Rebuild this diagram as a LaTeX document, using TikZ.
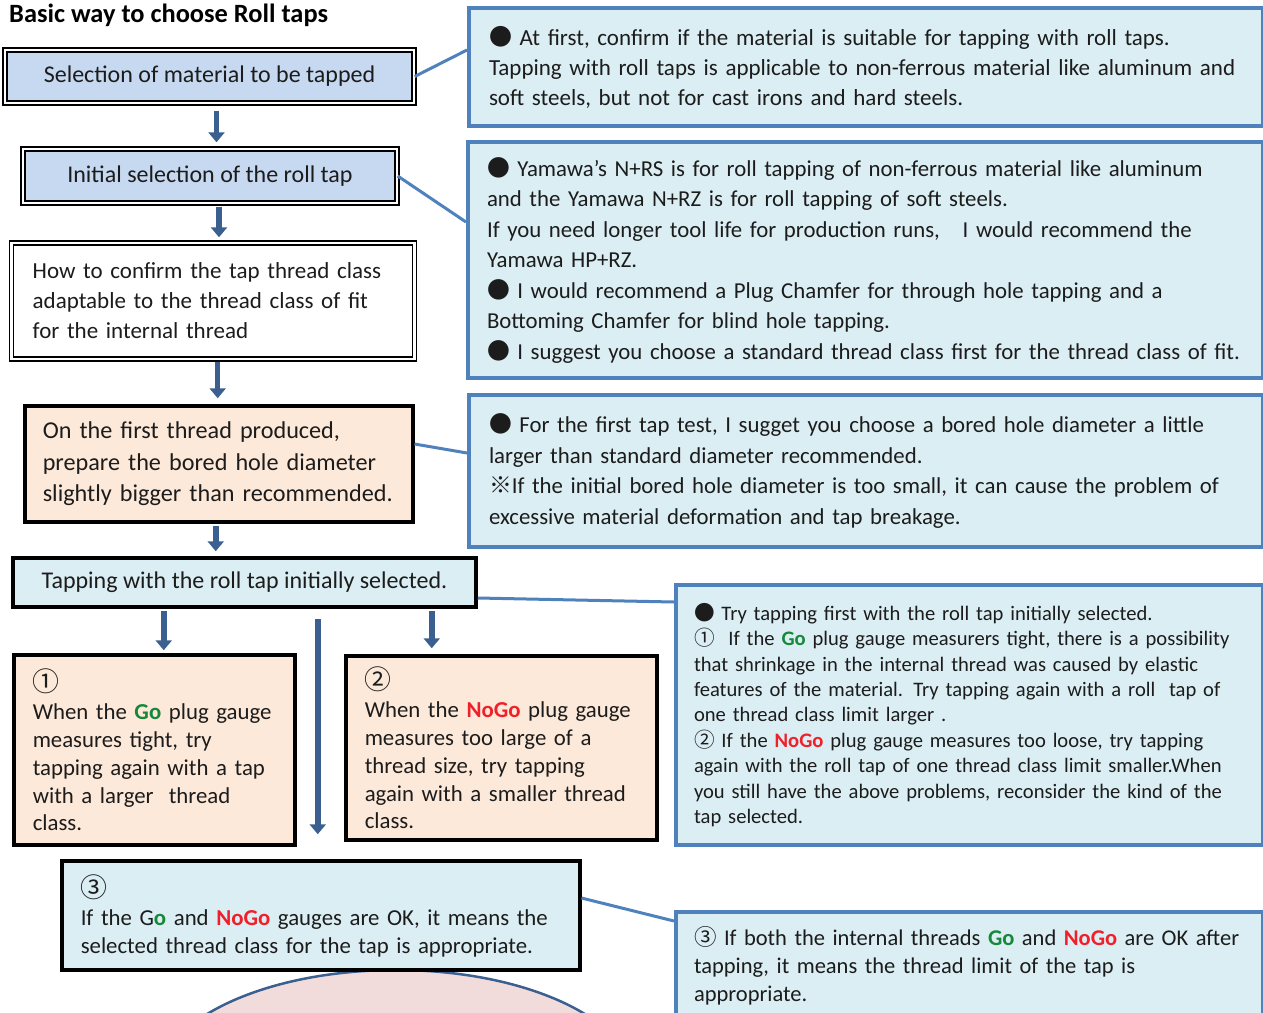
\documentclass[tikz,border=0pt]{standalone}
\usepackage{fontspec}
\setmainfont{Carlito}
\newfontfamily\jpfont{Noto Sans CJK JP}
\usetikzlibrary{arrows.meta}

\definecolor{txtdark}{HTML}{1C1C1C}
\definecolor{selblue}{HTML}{C6D9F1}
\definecolor{peach}{HTML}{FDE9D9}
\definecolor{paleblue}{HTML}{DBEEF4}
\definecolor{noteline}{HTML}{4F81BD}
\definecolor{flowblue}{HTML}{3B6090}
\definecolor{gogreen}{HTML}{16883A}
\definecolor{nogored}{HTML}{F0202A}
\definecolor{ovalpink}{HTML}{F2DCDB}

\newcommand{\mk}[1]{{\jpfont #1}}
\newcommand{\bigmk}[1]{\scalebox{1.18}{\jpfont #1}}
\newcommand{\goword}{\textcolor{gogreen}{\textbf{Go}}}
\newcommand{\nogoword}{\textcolor{nogored}{\textbf{NoGo}}}

\tikzset{
  every node/.style={text=txtdark},
  stepframe/.style={draw=black, line width=1.4pt, double=white, double distance=2.6pt},
  thickframe/.style={draw=black, line width=3.5pt},
  notebox/.style={draw=noteline, line width=4pt, fill=paleblue, align=left, anchor=west},
  flow/.style={draw=flowblue, line width=5.5pt, -{Triangle[width=16pt,length=10pt]}},
  link/.style={draw=noteline, line width=3pt}
}

\begin{document}
\begin{tikzpicture}[x=1pt,y=-1pt]
\useasboundingbox (0,0) rectangle (1263,1012);
\clip (0,0) rectangle (1263,1012);

% title
\node (title) [anchor=west, inner sep=0pt, font=\fontsize{26.4}{30}\selectfont\bfseries, text=black] at (9,15) {Basic way to choose Roll taps};

% left column
\node (sel) [stepframe, fill=selblue, minimum width=409pt, minimum height=53pt, font=\fontsize{24}{28}\selectfont] at (209.5,76.5) {Selection of material to be tapped};
\node (init) [stepframe, fill=selblue, minimum width=374pt, minimum height=54pt, font=\fontsize{24}{28}\selectfont] at (210,176) {Initial selection of the roll tap};
\node (howto) [stepframe, fill=white, anchor=west, align=left, inner xsep=21pt, text width=361pt, minimum height=116pt, font=\fontsize{23}{30}\selectfont] at (11,301)
  {How to confirm the tap thread class\\adaptable to the thread class of fit\\for the internal thread};
\node (bored) [thickframe, fill=peach, anchor=west, align=left, inner xsep=18pt, text width=352pt, minimum height=116pt, font=\fontsize{24.2}{31.5}\selectfont] at (23,464)
  {On the first thread produced,\\prepare the bored hole diameter\\slightly bigger than recommended.};
\node (trial) [thickframe, fill=paleblue, minimum width=463pt, minimum height=49pt, font=\fontsize{24}{28}\selectfont] at (244.5,582.5) {Tapping with the roll tap initially selected.};

% three cases
\node (gocase) [thickframe, fill=peach, anchor=west, align=left, inner xsep=19pt, text width=243pt, minimum height=190pt, font=\fontsize{22.8}{27.8}\selectfont] at (12,750)
  {\bigmk{①}\\When the \goword{} plug gauge\\measures tight, try\\tapping again with a tap\\with a larger\ \ thread\\class.};
\node (nogocase) [thickframe, fill=peach, anchor=west, align=left, inner xsep=19pt, text width=273pt, minimum height=184pt, font=\fontsize{22.8}{27.8}\selectfont] at (344,748)
  {\bigmk{②}\\When the \nogoword{} plug gauge\\measures too large of a\\thread size, try tapping\\again with a smaller thread\\class.};

% oval under the result box
\draw [draw=flowblue, line width=2.5pt, fill=ovalpink] (396,1085) ellipse [x radius=240, y radius=115];

\node (okcase) [thickframe, fill=paleblue, anchor=west, align=left, inner xsep=19pt, text width=480pt, minimum height=109pt, font=\fontsize{22.8}{28}\selectfont] at (60,915.5)
  {\bigmk{③}\\If the G\textcolor{gogreen}{\textbf{o}} and \nogoword{} gauges are OK, it means the\\selected thread class for the tap is appropriate.};

% notes on the right
\node (note1) [notebox, inner xsep=20pt, text width=754pt, minimum height=118pt, font=\fontsize{23}{30}\selectfont] at (467,67)
  {\mk{●} At first, confirm if the material is suitable for tapping with roll taps.\\Tapping with roll taps is applicable to non-ferrous material like aluminum and\\soft steels, but not for cast irons and hard steels.};
\node (note2) [notebox, inner xsep=19pt, text width=757pt, minimum height=236pt, font=\fontsize{22.8}{30.5}\selectfont] at (466,260)
  {\mk{●} Yamawa's N+RS is for roll tapping of non-ferrous material like aluminum\\and the Yamawa N+RZ is for roll tapping of soft steels.\\If you need longer tool life for production runs,\ \ \ I would recommend the\\Yamawa HP+RZ.\\\mk{●} I would recommend a Plug Chamfer for through hole tapping and a\\Bottoming Chamfer for blind hole tapping.\\\mk{●} I suggest you choose a standard thread class first for the thread class of fit.};
\node (note3) [notebox, inner xsep=20pt, text width=754pt, minimum height=152pt, font=\fontsize{22.8}{30.5}\selectfont] at (467,471)
  {\mk{●} For the first tap test, I sugget you choose a bored hole diameter a little\\larger than standard diameter recommended.\\\mk{※}If the initial bored hole diameter is too small, it can cause the problem of\\excessive material deformation and tap breakage.};
\node (note4) [notebox, inner xsep=18pt, text width=551pt, minimum height=260pt, font=\fontsize{20.6}{25.4}\selectfont] at (674,715)
  {\mk{●} Try tapping first with the roll tap initially selected.\\\mk{①}\ \ If the \goword{} plug gauge measurers tight, there is a possibility\\that shrinkage in the internal thread was caused by elastic\\features of the material. Try tapping again with a roll\ \ tap of\\one thread class limit larger .\\\mk{②} If the \nogoword{} plug gauge measures too loose, try tapping\\again with the roll tap of one thread class limit smaller.When\\you still have the above problems, reconsider the kind of the\\tap selected.};
\node (note5) [notebox, inner xsep=18pt, text width=551pt, minimum height=108pt, font=\fontsize{22.5}{28}\selectfont] at (674,966)
  {\mk{③} If both the internal threads \goword{} and \nogoword{} are OK after\\tapping, it means the thread limit of the tap is\\appropriate.};

% flow arrows
\draw [flow, shorten <=7pt, shorten >=6pt] ([xshift=7pt]sel.south) -- ([xshift=7pt]sel.south |- init.north);
\draw [flow, shorten <=3pt, shorten >=5pt] ([xshift=9pt]init.south) -- ([xshift=9pt]init.south |- howto.north);
\draw [flow, shorten <=2pt, shorten >=6pt] ([xshift=4.5pt]howto.south) -- ([xshift=4.5pt]howto.south |- bored.north);
\draw [flow, shorten <=2pt, shorten >=5pt] ([xshift=-3pt]bored.south) -- ([xshift=-3pt]bored.south |- trial.north);
\draw [flow, shorten <=2pt, shorten >=3pt] ([xshift=9.5pt]gocase.north |- trial.south) -- ([xshift=9.5pt]gocase.north);
\draw [flow, shorten <=2pt, shorten >=6pt] ([xshift=-69.5pt]nogocase.north |- trial.south) -- ([xshift=-69.5pt]nogocase.north);
\draw [flow, shorten <=10pt, shorten >=25pt] ([xshift=-3pt]okcase.north |- trial.south) -- ([xshift=-3pt]okcase.north);

% links to the notes
\draw [link] (sel.east) -- ([yshift=17pt]note1.west);
\draw [link] (init.east) -- ([yshift=38pt]note2.west);
\draw [link] ([yshift=20pt]bored.east) -- ([yshift=18pt]note3.west);
\draw [link] ([yshift=-15.5pt]trial.east) -- ([yshift=113pt]note4.west);
\draw [link] ([yshift=17.5pt]okcase.east) -- ([yshift=45pt]note5.west);

\end{tikzpicture}
\end{document}
